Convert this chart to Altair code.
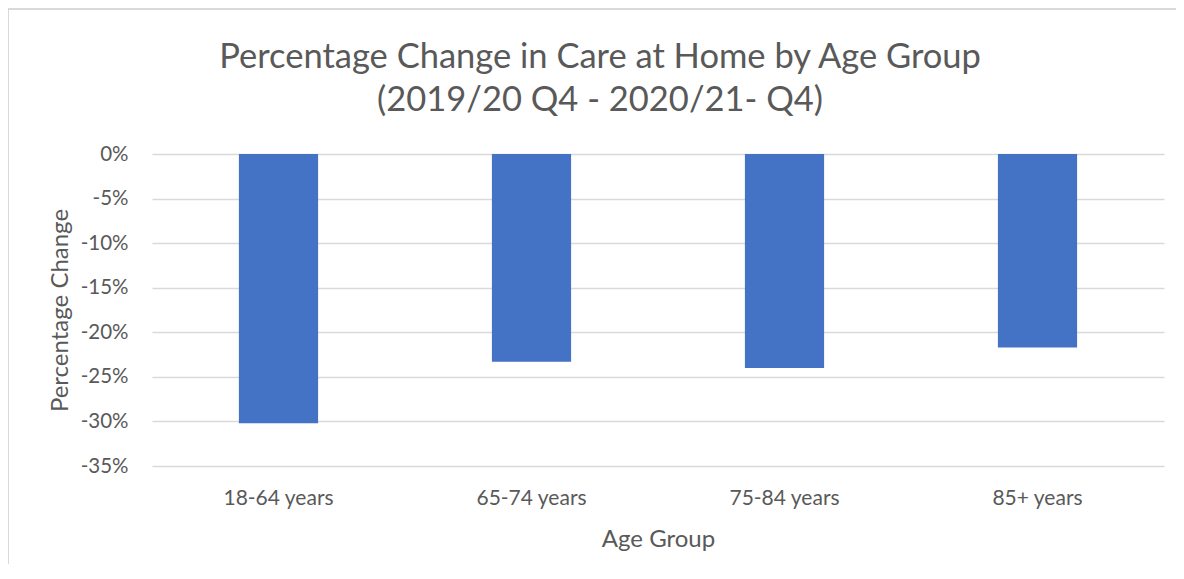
import altair as alt
import pandas as pd

age_groups = ["18-64 years", "65-74 years", "75-84 years", "85+ years"]
pct_change = [-0.302, -0.233, -0.240, -0.217]
y_ticks = [0, -0.05, -0.10, -0.15, -0.20, -0.25, -0.30, -0.35]

df = pd.DataFrame({"Age Group": age_groups, "Change": pct_change})

FONT = "Lato"
GREY = "#595959"
W, H = 1012, 312

bars = alt.Chart(df).mark_bar(color="#4472C4").encode(
    x=alt.X(
        "Age Group:N",
        sort=age_groups,
        scale=alt.Scale(paddingInner=0.687, paddingOuter=0.3435),
        axis=alt.Axis(
            title="Age Group",
            labelAngle=0,
            labelFontSize=21,
            labelPadding=21,
            titleFontSize=24,
            titlePadding=19,
            domain=False,
            ticks=False,
        ),
    ),
    y=alt.Y(
        "Change:Q",
        scale=alt.Scale(domain=[-0.35, 0], nice=False),
        axis=alt.Axis(
            title="Percentage Change",
            values=y_ticks,
            labelExpr="(datum.value < 0 ? '-' : '') + format(abs(datum.value), '.0%')",
            labelFontSize=20.5,
            labelPadding=24,
            titleFontSize=24,
            titlePadding=8,
            domain=False,
            ticks=False,
            grid=True,
            gridColor="#d9d9d9",
            gridWidth=1.5,
        ),
    ),
)

frame_left = alt.Chart(df).mark_rule(stroke="#d9d9d9", strokeWidth=2).encode(
    x=alt.value(-144), y=alt.value(-145), y2=alt.value(H + 300)
)
frame_top = alt.Chart(df).mark_rule(stroke="#d9d9d9", strokeWidth=2).encode(
    y=alt.value(-145), x=alt.value(-145), x2=alt.value(W + 200)
)

chart = (
    alt.layer(frame_left, frame_top, bars)
    .properties(
        width=W,
        height=H,
        padding={"left": 144, "top": 146, "right": 12, "bottom": 98},
        autosize=alt.AutoSizeParams(type="none"),
        title=alt.Title(
            ["Percentage Change in Care at Home by Age Group", "(2019/20 Q4 - 2020/21- Q4)"],
            fontSize=34.5,
            fontWeight="normal",
            font=FONT,
            color=GREY,
            anchor="middle",
            frame="group",
            lineHeight=43,
            offset=30,
            dx=-58,
            dy=140,
        ),
    )
    .configure(font=FONT)
    .configure_axis(labelColor=GREY, titleColor=GREY, labelFont=FONT, titleFont=FONT, titleFontWeight="normal")
    .configure_view(stroke=None)
)

chart.save("out.html", embed_options={"renderer": "svg", "actions": False})
